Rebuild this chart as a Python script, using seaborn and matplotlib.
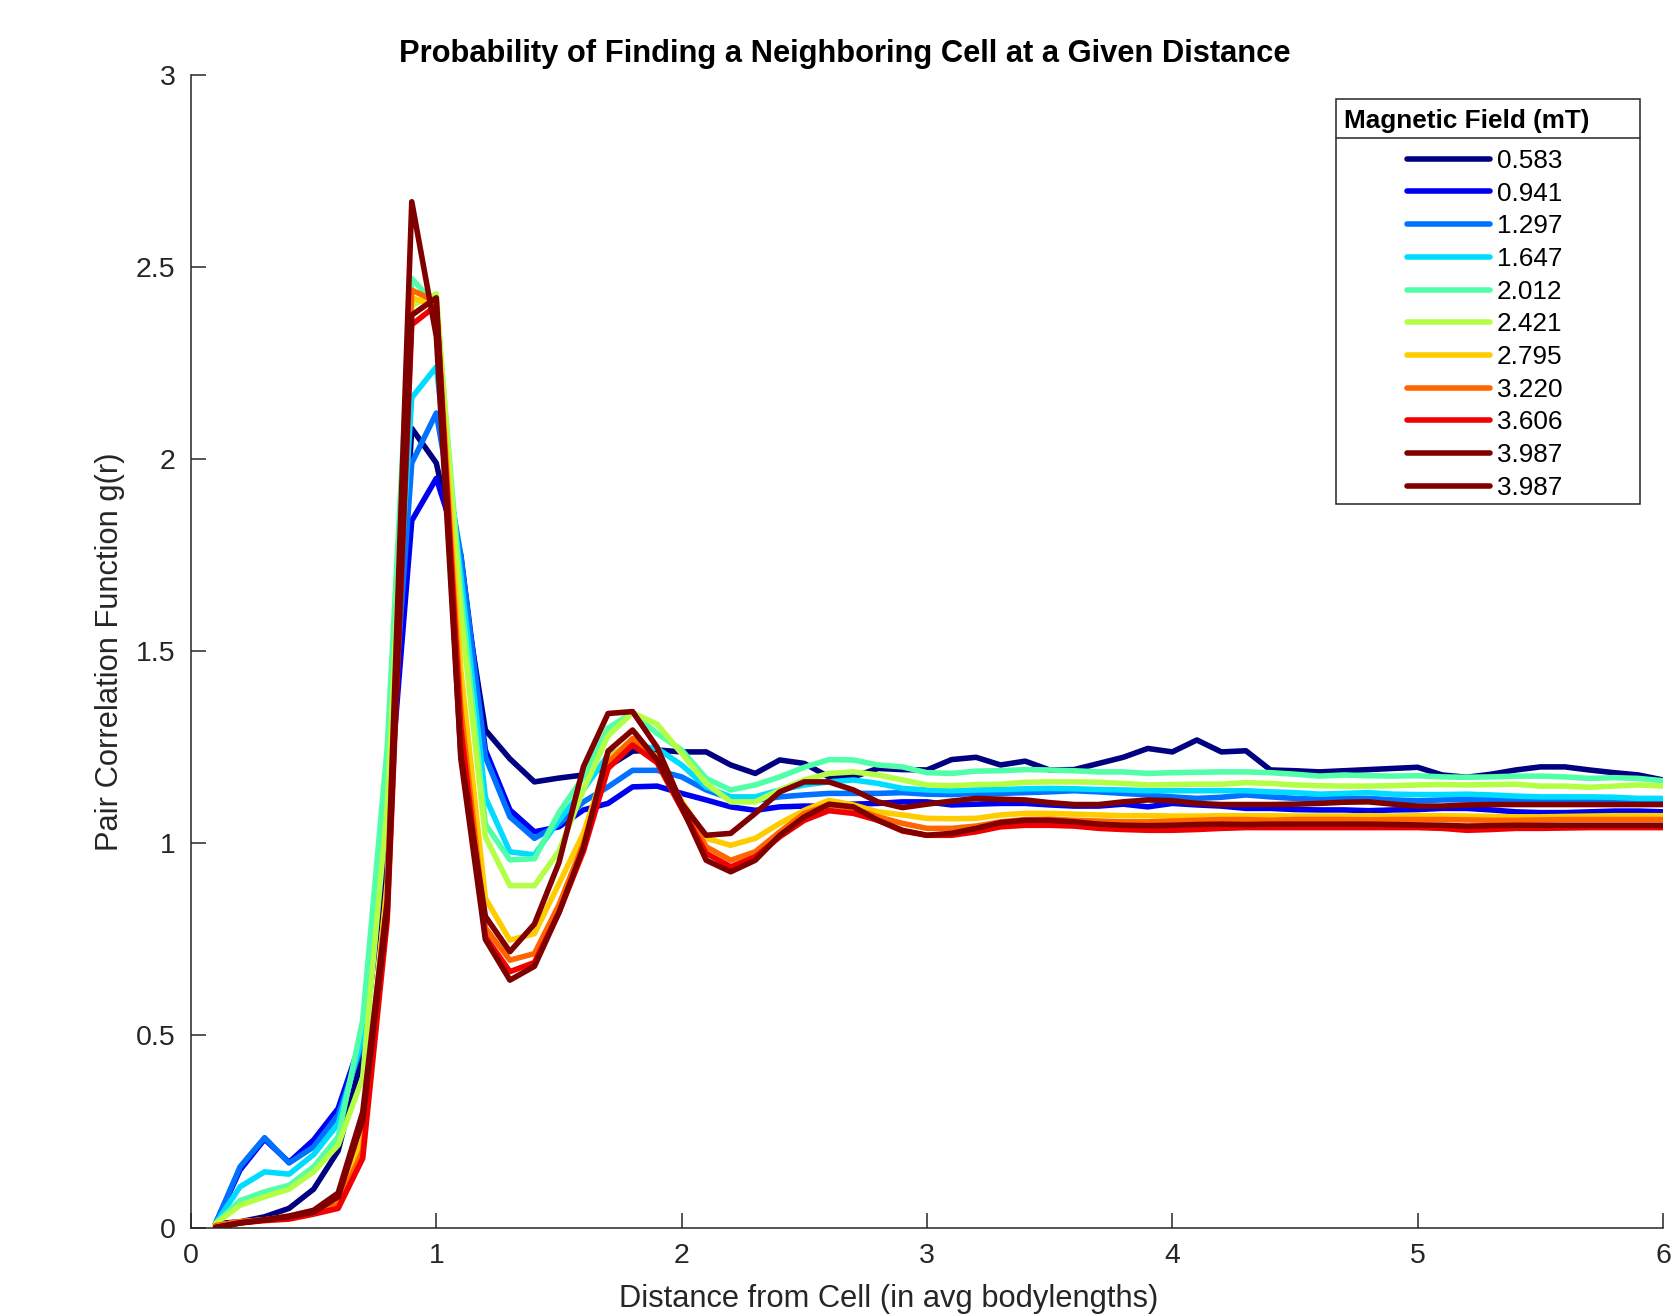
import matplotlib
matplotlib.use("Agg")
import matplotlib.pyplot as plt
from matplotlib.lines import Line2D
from matplotlib.patches import Rectangle
from matplotlib.ticker import FormatStrFormatter
import numpy as np
import seaborn as sns

# distance grid (avg bodylengths), 0.1 .. 6.0
dist = np.round(np.arange(1, 61) / 10, 1)

field_labels = ["0.583", "0.941", "1.297", "1.647", "2.012", "2.421",
                "2.795", "3.220", "3.606", "3.987", "3.987"]
field_colors = ["#000080", "#0000F0", "#0072FF", "#00DCFF", "#50FFA8", "#B4FF46",
                "#FFCC00", "#FF6600", "#F00000", "#800000", "#800000"]

g_0583 = [0.01, 0.015, 0.028, 0.05, 0.10, 0.20, 0.45, 1.0, 2.08, 1.99,
          1.70, 1.295, 1.22, 1.16, 1.17, 1.178, 1.20, 1.24, 1.243, 1.238,
          1.238, 1.204, 1.182, 1.217, 1.208, 1.173, 1.173, 1.195, 1.192, 1.191,
          1.218, 1.224, 1.204, 1.214, 1.191, 1.192, 1.208, 1.224, 1.247, 1.238,
          1.269, 1.238, 1.241, 1.191, 1.189, 1.186, 1.189, 1.192, 1.195, 1.198,
          1.178, 1.172, 1.180, 1.191, 1.199, 1.199, 1.191, 1.184, 1.178, 1.165]
g_0941 = [0.01, 0.15, 0.23, 0.17, 0.228, 0.31, 0.50, 1.05, 1.84, 1.95,
          1.75, 1.243, 1.087, 1.03, 1.043, 1.087, 1.104, 1.147, 1.149, 1.13,
          1.113, 1.095, 1.086, 1.095, 1.097, 1.097, 1.102, 1.104, 1.108, 1.108,
          1.100, 1.102, 1.104, 1.104, 1.100, 1.097, 1.097, 1.102, 1.095, 1.104,
          1.100, 1.097, 1.091, 1.091, 1.088, 1.087, 1.087, 1.085, 1.087, 1.088,
          1.091, 1.091, 1.087, 1.082, 1.080, 1.080, 1.082, 1.084, 1.084, 1.082]
g_1297 = [0.01, 0.158, 0.234, 0.168, 0.21, 0.293, 0.48, 1.1, 1.99, 2.12,
          1.75, 1.225, 1.069, 1.013, 1.05, 1.108, 1.147, 1.19, 1.19, 1.173,
          1.139, 1.117, 1.112, 1.121, 1.126, 1.13, 1.13, 1.13, 1.132, 1.128,
          1.127, 1.130, 1.130, 1.132, 1.134, 1.137, 1.134, 1.130, 1.126, 1.121,
          1.117, 1.120, 1.126, 1.121, 1.117, 1.115, 1.117, 1.117, 1.113, 1.111,
          1.113, 1.114, 1.114, 1.113, 1.110, 1.108, 1.108, 1.108, 1.110, 1.111]
g_1647 = [0.01, 0.106, 0.145, 0.139, 0.19, 0.27, 0.50, 1.15, 2.16, 2.24,
          1.70, 1.12, 0.978, 0.97, 1.06, 1.14, 1.23, 1.255, 1.247, 1.204,
          1.147, 1.121, 1.121, 1.139, 1.152, 1.16, 1.165, 1.156, 1.143, 1.139,
          1.137, 1.139, 1.140, 1.142, 1.143, 1.142, 1.140, 1.139, 1.137, 1.137,
          1.137, 1.137, 1.137, 1.134, 1.132, 1.128, 1.130, 1.132, 1.128, 1.127,
          1.127, 1.128, 1.126, 1.123, 1.121, 1.121, 1.121, 1.120, 1.117, 1.117]
g_2012 = [0.01, 0.07, 0.093, 0.11, 0.158, 0.236, 0.54, 1.25, 2.47, 2.40,
          1.65, 1.05, 0.957, 0.96, 1.08, 1.173, 1.30, 1.34, 1.286, 1.243,
          1.169, 1.139, 1.152, 1.173, 1.198, 1.218, 1.217, 1.204, 1.199, 1.184,
          1.182, 1.188, 1.189, 1.192, 1.191, 1.189, 1.186, 1.186, 1.182, 1.184,
          1.185, 1.186, 1.186, 1.184, 1.180, 1.175, 1.178, 1.176, 1.175, 1.176,
          1.173, 1.172, 1.173, 1.175, 1.175, 1.173, 1.169, 1.171, 1.169, 1.163]
g_2421 = [0.01, 0.058, 0.08, 0.10, 0.145, 0.215, 0.39, 1.1, 2.40, 2.43,
          1.60, 1.017, 0.89, 0.89, 0.98, 1.14, 1.28, 1.34, 1.31, 1.234,
          1.156, 1.108, 1.108, 1.139, 1.165, 1.182, 1.186, 1.178, 1.165, 1.152,
          1.150, 1.153, 1.154, 1.159, 1.160, 1.160, 1.159, 1.156, 1.152, 1.153,
          1.154, 1.154, 1.158, 1.156, 1.152, 1.150, 1.149, 1.149, 1.150, 1.152,
          1.153, 1.152, 1.153, 1.154, 1.149, 1.149, 1.146, 1.149, 1.152, 1.149]
g_2795 = [0.005, 0.015, 0.02, 0.03, 0.04, 0.07, 0.23, 0.9, 2.42, 2.40,
          1.45, 0.857, 0.748, 0.765, 0.895, 1.027, 1.22, 1.27, 1.225, 1.11,
          1.013, 0.995, 1.013, 1.052, 1.086, 1.112, 1.10, 1.082, 1.074, 1.065,
          1.064, 1.065, 1.074, 1.078, 1.078, 1.076, 1.074, 1.072, 1.072, 1.071,
          1.071, 1.072, 1.072, 1.072, 1.071, 1.071, 1.071, 1.072, 1.071, 1.072,
          1.072, 1.071, 1.070, 1.069, 1.069, 1.070, 1.071, 1.072, 1.072, 1.072]
g_3220 = [0.005, 0.015, 0.02, 0.028, 0.04, 0.06, 0.20, 0.85, 2.44, 2.41,
          1.35, 0.78, 0.696, 0.713, 0.84, 1.0, 1.21, 1.273, 1.22, 1.10,
          0.991, 0.956, 0.978, 1.03, 1.078, 1.10, 1.091, 1.069, 1.052, 1.039,
          1.039, 1.045, 1.056, 1.062, 1.063, 1.060, 1.058, 1.056, 1.056, 1.058,
          1.060, 1.062, 1.062, 1.060, 1.062, 1.062, 1.062, 1.061, 1.062, 1.062,
          1.062, 1.061, 1.060, 1.060, 1.061, 1.062, 1.062, 1.062, 1.062, 1.062]
g_3606 = [0.0, 0.012, 0.018, 0.022, 0.035, 0.05, 0.18, 0.80, 2.35, 2.40,
          1.30, 0.757, 0.666, 0.69, 0.82, 0.98, 1.195, 1.256, 1.21, 1.09,
          0.974, 0.939, 0.965, 1.017, 1.06, 1.085, 1.078, 1.06, 1.032, 1.021,
          1.021, 1.030, 1.043, 1.047, 1.047, 1.045, 1.039, 1.036, 1.034, 1.034,
          1.036, 1.039, 1.041, 1.041, 1.041, 1.041, 1.041, 1.041, 1.041, 1.041,
          1.039, 1.034, 1.036, 1.039, 1.039, 1.040, 1.041, 1.041, 1.041, 1.041]
g_3987_b = [0.0, 0.012, 0.02, 0.028, 0.04, 0.08, 0.28, 0.82, 2.375, 2.42,
            1.22, 0.75, 0.644, 0.68, 0.82, 0.99, 1.24, 1.295, 1.217, 1.095,
            0.956, 0.926, 0.956, 1.021, 1.069, 1.102, 1.095, 1.06, 1.034, 1.021,
            1.026, 1.039, 1.054, 1.060, 1.060, 1.056, 1.050, 1.047, 1.046, 1.047,
            1.049, 1.050, 1.049, 1.050, 1.050, 1.050, 1.050, 1.050, 1.049, 1.048,
            1.047, 1.045, 1.046, 1.047, 1.047, 1.047, 1.047, 1.047, 1.047, 1.047]
g_3987_a = [0.0, 0.012, 0.02, 0.03, 0.045, 0.09, 0.30, 0.85, 2.67, 2.32,
            1.23, 0.81, 0.718, 0.79, 0.95, 1.20, 1.338, 1.343, 1.25, 1.104,
            1.021, 1.026, 1.078, 1.134, 1.16, 1.16, 1.139, 1.108, 1.093, 1.102,
            1.110, 1.117, 1.115, 1.113, 1.106, 1.101, 1.101, 1.108, 1.113, 1.111,
            1.104, 1.101, 1.101, 1.101, 1.102, 1.104, 1.107, 1.108, 1.102, 1.097,
            1.097, 1.100, 1.101, 1.101, 1.101, 1.101, 1.101, 1.101, 1.101, 1.101]

series = [g_0583, g_0941, g_1297, g_1647, g_2012, g_2421,
          g_2795, g_3220, g_3606, g_3987_b, g_3987_a]

sns.set_style("ticks")
plt.rcParams["font.family"] = ["Liberation Sans", "DejaVu Sans"]
ink = "#262626"
lw = 4.0

fig = plt.figure(figsize=(16.81, 13.15), dpi=100)
W, H = fig.get_size_inches() * fig.dpi
ax = fig.add_axes([0.1136, 0.0665, 0.8757, 0.8765])

for vals, lab, col in zip(series, field_labels, field_colors):
    sns.lineplot(x=dist, y=vals, color=col, linewidth=lw, label=lab, ax=ax)

ax.set_xlim(0, 6)
ax.set_ylim(0, 3)
ax.set_xticks(range(0, 7))
ax.set_yticks([0, 0.5, 1, 1.5, 2, 2.5, 3])
ax.yaxis.set_major_formatter(FormatStrFormatter("%g"))
ax.tick_params(direction="in", length=11, width=1.1, colors=ink,
               labelsize=20.5, pad=11)
for s in ["top", "right"]:
    ax.spines[s].set_visible(False)
for s in ["left", "bottom"]:
    ax.spines[s].set_color(ink)
    ax.spines[s].set_linewidth(1.1)

ax.set_xlabel("Distance from Cell (in avg bodylengths)", fontsize=22.2, color=ink)
ax.xaxis.set_label_coords(0.474, -0.0494)
ax.set_ylabel("Pair Correlation Function g(r)", fontsize=22.2,
              color=ink, labelpad=8)
fig.text(0.5026, 0.9593,
         "Probability of Finding a Neighboring Cell at a Given Distance",
         fontsize=22.2, fontweight="bold", color="black",
         ha="center", va="center")

# legend: framed box with a bold title and a rule under it (drawn inside the
# axes so the legend entries sit on top of the white box)
box_l, box_r, box_t, box_b = 1335.8, 1640.3, 98.6, 503.9   # pixels from top-left
frame = Rectangle((box_l / W, 1 - box_b / H), (box_r - box_l) / W,
                  (box_b - box_t) / H, transform=fig.transFigure,
                  facecolor="white", edgecolor=ink, linewidth=1.1,
                  zorder=4, clip_on=False)
ax.add_patch(frame)
rule = Line2D([box_l / W, box_r / W], [1 - 138.3 / H, 1 - 138.3 / H],
              transform=fig.transFigure, color=ink, linewidth=1.1,
              zorder=5, clip_on=False)
ax.add_artist(rule)
ax.text(1344.4 / W, 1 - 121.0 / H, "Magnetic Field (mT)", fontsize=18.8,
        fontweight="bold", color="black", ha="left", va="center", zorder=6,
        transform=fig.transFigure, clip_on=False)

leg_fs = 18.8
fs_px = leg_fs * fig.dpi / 72
first_y, pitch_target, handle_x = 158.7, 32.7, 1406.6


def make_legend(spacing):
    lg = ax.legend(loc="upper left", bbox_to_anchor=(0.8, 0.9),
                   bbox_transform=fig.transFigure, frameon=False,
                   fontsize=leg_fs, handlelength=3.2, handletextpad=0.25,
                   labelspacing=spacing, borderpad=0, borderaxespad=0)
    lg.set_zorder(7)
    for h in lg.get_lines():
        h.set_linewidth(lw)
    for t in lg.get_texts():
        t.set_color("black")
    return lg


def handle_centers(lg):
    fig.canvas.draw()
    r = fig.canvas.get_renderer()
    bbs = [h.get_window_extent(r) for h in lg.get_lines()]
    return bbs, lg.get_window_extent(r)


spacing = 0.4
leg = make_legend(spacing)
bbs, lbb = handle_centers(leg)
pitch = ((bbs[0].y0 + bbs[0].y1) - (bbs[-1].y0 + bbs[-1].y1)) / 2 / 10
spacing += (pitch_target - pitch) / fs_px
leg.remove()
leg = make_legend(spacing)
bbs, lbb = handle_centers(leg)
dx = bbs[0].x0 - lbb.x0
dy = lbb.y1 - (bbs[0].y0 + bbs[0].y1) / 2
leg.set_bbox_to_anchor(((handle_x - dx) / W, (H - first_y + dy) / H),
                       transform=fig.transFigure)

fig.savefig("out.png", dpi=100)
